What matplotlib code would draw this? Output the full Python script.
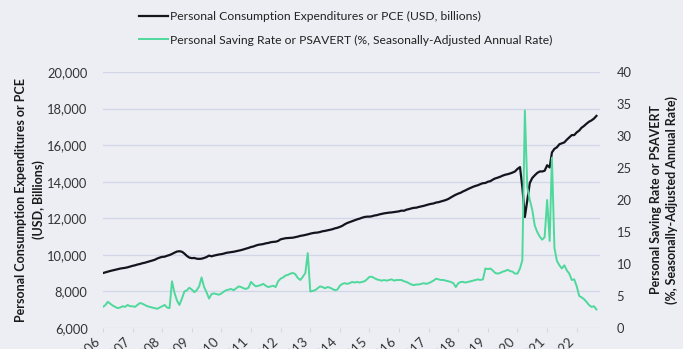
import matplotlib
matplotlib.use("Agg")
import matplotlib.pyplot as plt
import matplotlib.dates as mdates
import pandas as pd
import numpy as np

plt.rcParams['font.family'] = ['Lato', 'DejaVu Sans']

start_month = "2006-01-01"

pce = [
    # 2006
    9005, 9045, 9085, 9120, 9150, 9180, 9215, 9250, 9270, 9290, 9320, 9360,
    # 2007
    9400, 9430, 9470, 9500, 9540, 9570, 9610, 9650, 9690, 9730, 9800, 9850,
    # 2008
    9890, 9900, 9950, 9990, 10050, 10120, 10180, 10200, 10170, 10070, 9940, 9850,
    # 2009
    9820, 9830, 9790, 9780, 9790, 9830, 9880, 9960, 9920, 9960, 9990, 10020,
    # 2010
    10040, 10070, 10110, 10130, 10150, 10170, 10200, 10230, 10260, 10300, 10340, 10380,
    # 2011
    10430, 10460, 10510, 10550, 10570, 10590, 10630, 10650, 10690, 10710, 10720, 10760,
    # 2012
    10850, 10880, 10910, 10920, 10930, 10940, 10970, 11000, 11040, 11060, 11090, 11120,
    # 2013
    11160, 11190, 11210, 11220, 11250, 11290, 11310, 11340, 11370, 11400, 11450, 11480,
    # 2014
    11530, 11590, 11670, 11740, 11790, 11840, 11890, 11940, 11980, 12030, 12070, 12090,
    # 2015
    12090, 12110, 12150, 12170, 12210, 12240, 12270, 12290, 12310, 12320, 12340, 12360,
    # 2016
    12380, 12420, 12410, 12470, 12500, 12540, 12570, 12580, 12620, 12650, 12680, 12720,
    # 2017
    12760, 12790, 12810, 12860, 12880, 12920, 12960, 13000, 13060, 13140, 13220, 13290,
    # 2018
    13350, 13400, 13470, 13530, 13600, 13660, 13720, 13770, 13810, 13870, 13920, 13930,
    # 2019
    14000, 14030, 14110, 14180, 14220, 14270, 14330, 14380, 14410, 14450, 14500, 14560,
    # 2020
    14700, 14800, 13700, 12070, 13000, 13930, 14200, 14350, 14480, 14560, 14560, 14600,
    # 2021
    14900, 14780, 15600, 15800, 15880, 16050, 16100, 16150, 16300, 16420, 16550, 16550,
    # 2022
    16700, 16800, 16950, 17050, 17170, 17280, 17350, 17450, 17600,
]

psavert = [
    # 2006
    3.3, 3.6, 4.1, 3.8, 3.5, 3.3, 3.1, 3.2, 3.4, 3.3, 3.6, 3.4,
    # 2007
    3.4, 3.3, 3.6, 3.9, 3.8, 3.6, 3.4, 3.3, 3.2, 3.1, 3.0, 3.2,
    # 2008
    3.4, 3.6, 3.2, 3.1, 7.3, 5.5, 4.3, 3.6, 4.6, 5.7, 5.9, 6.3,
    # 2009
    6.0, 5.6, 5.9, 6.5, 7.9, 6.4, 5.6, 4.6, 5.3, 5.4, 5.3, 5.2,
    # 2010
    5.4, 5.7, 5.9, 6.0, 6.1, 5.9, 6.2, 6.5, 6.4, 6.2, 6.1, 6.3,
    # 2011
    7.2, 6.8, 6.5, 6.6, 6.7, 6.9, 6.6, 6.4, 6.5, 6.6, 6.4, 7.3,
    # 2012
    7.7, 7.9, 8.2, 8.3, 8.5, 8.6, 8.4, 7.8, 7.5, 8.0, 8.6, 11.7,
    # 2013
    5.7, 5.8, 5.9, 6.2, 6.5, 6.4, 6.2, 6.4, 6.3, 6.1, 5.9, 6.0,
    # 2014
    6.6, 6.9, 7.0, 6.9, 7.0, 7.2, 7.1, 7.2, 7.1, 7.2, 7.3, 7.6,
    # 2015
    8.0, 8.0, 7.8, 7.6, 7.5, 7.4, 7.5, 7.4, 7.5, 7.6, 7.4, 7.5,
    # 2016
    7.5, 7.5, 7.3, 7.2, 7.0, 6.8, 6.7, 6.8, 6.8, 6.9, 7.0, 6.9,
    # 2017
    7.0, 7.2, 7.4, 7.7, 7.6, 7.5, 7.5, 7.4, 7.3, 7.2, 7.0, 6.4,
    # 2018
    7.0, 7.2, 7.2, 7.1, 7.2, 7.3, 7.4, 7.5, 7.6, 7.5, 7.6, 9.3,
    # 2019
    9.2, 9.3, 9.0, 8.6, 8.5, 8.6, 8.8, 8.9, 9.1, 8.9, 8.8, 8.5,
    # 2020
    8.5, 9.3, 10.6, 34.0, 22.0, 20.0, 18.5, 16.0, 15.0, 14.3, 13.8, 14.2,
    # 2021
    20.0, 13.6, 26.6, 12.5, 10.5, 9.8, 9.3, 9.8, 9.0, 8.5, 7.5, 7.6,
    # 2022
    6.5, 5.0, 4.8, 4.5, 4.1, 3.6, 3.3, 3.4, 2.9,
]

pce_label = "Personal Consumption Expenditures or PCE (USD, billions)"
sav_label = "Personal Saving Rate or PSAVERT (%, Seasonally-Adjusted Annual Rate)"
left_ylabel = "Personal Consumption Expenditures or PCE\n(USD, Billions)"
right_ylabel = "Personal Saving Rate or PSAVERT\n(%, Seasonally-Adjusted Annual Rate)"

left_ticks = [6000, 8000, 10000, 12000, 14000, 16000, 18000, 20000]
right_ticks = [0, 5, 10, 15, 20, 25, 30, 35, 40]

dates = pd.date_range(start_month, periods=len(pce), freq="MS")

bg = "#eceef4"
fig = plt.figure(figsize=(6.83, 3.49), dpi=100, facecolor=bg)
ax = fig.add_axes([103/683, 1-328/349, 497/683, 256/349])
ax.set_facecolor(bg)
ax2 = ax.twinx()

l1, = ax.plot(dates, pce, color="#14141f", lw=1.6, zorder=3)
l2, = ax2.plot(dates, psavert, color="#4fd89b", lw=1.4, zorder=3)

ax.set_ylim(6000, 20000)
ax.set_yticks(left_ticks)
ax.yaxis.set_major_formatter(matplotlib.ticker.FuncFormatter(lambda v, p: f"{int(v):,}"))
ax2.set_ylim(0, 40)
ax2.set_yticks(right_ticks)

ax.set_xlim(pd.Timestamp("2006-01-01"), pd.Timestamp("2022-10-15"))
ax.xaxis.set_major_locator(mdates.YearLocator())
ax.xaxis.set_major_formatter(mdates.DateFormatter("%Y"))

for a in (ax, ax2):
    for s in a.spines.values():
        s.set_visible(False)

ax.grid(axis="y", color="#d3d6e6", lw=0.9)
ax.set_axisbelow(True)
ax.tick_params(axis="y", length=0, pad=11, labelsize=9.3, labelcolor="#333333")
ax2.tick_params(axis="y", length=0, pad=12, labelsize=9.3, labelcolor="#333333")
ax.tick_params(axis="x", length=3, color="#d3d6e6", pad=2, labelsize=9.5, labelcolor="#333333")
for lab in ax.get_xticklabels():
    lab.set_rotation(45)
    lab.set_ha("right")

ax.set_ylabel(left_ylabel, fontsize=9, fontweight="bold", color="#1a1a1a", labelpad=2, linespacing=1.45)
ax2.set_ylabel(right_ylabel, fontsize=9, fontweight="bold", color="#1a1a1a", labelpad=13,
               rotation=90, linespacing=1.35)

fig.legend([l1, l2], [pce_label, sav_label], loc="upper left",
           bbox_to_anchor=(128/683, 1.0), frameon=False, fontsize=8.7,
           handlelength=2.4, handletextpad=0.15, labelspacing=1.05,
           labelcolor="#222222")

fig.savefig("out.png", dpi=100, facecolor=bg)
